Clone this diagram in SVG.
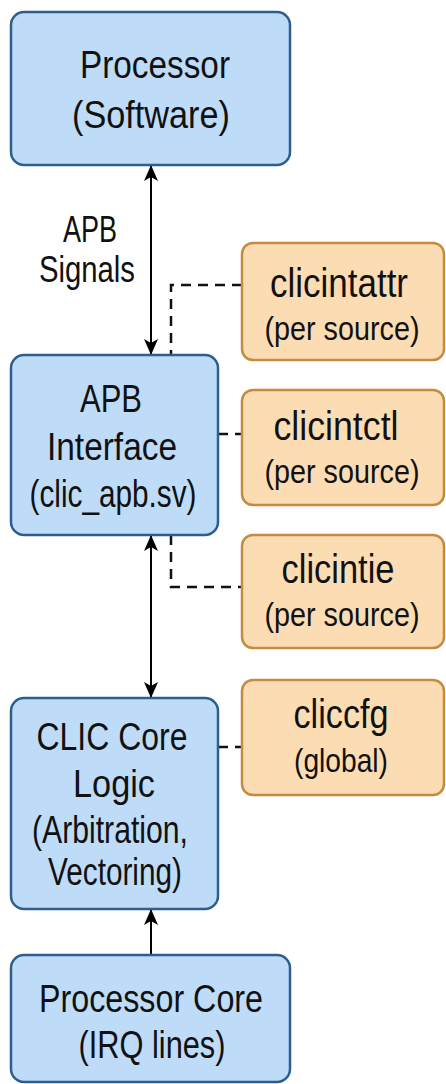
<svg xmlns="http://www.w3.org/2000/svg" width="446" height="1084" viewBox="0 0 446 1084">
  <defs>
    <marker id="ah" viewBox="0 0 16 14" refX="15" refY="7" markerWidth="16" markerHeight="14" markerUnits="userSpaceOnUse" orient="auto-start-reverse">
      <path d="M0,0 L16,7 L0,14 L4,7 Z" fill="#000"/>
    </marker>
    <style>
      .blue { fill: #BEDCF8; stroke: #2D5E8E; stroke-width: 2.5; }
      .orange { fill: #FCDDB3; stroke: #C68A40; stroke-width: 2.5; }
      text { font-family: "Liberation Sans", Arial, sans-serif; fill: #111; text-anchor: middle; }
      .t { font-size: 38px; }
      .o { font-size: 40px; }
      .s { font-size: 36px; }
      .p { font-size: 34px; }
      .solid { stroke: #000; stroke-width: 2; fill: none; }
      .dash { stroke: #111; stroke-width: 2.5; fill: none; stroke-dasharray: 10 7; }
    </style>
  </defs>

  <g id="connectors">
    <line class="solid" x1="151" y1="166" x2="151" y2="354" marker-start="url(#ah)" marker-end="url(#ah)"/>
    <line class="solid" x1="151" y1="536" x2="151" y2="697" marker-start="url(#ah)" marker-end="url(#ah)"/>
    <line class="solid" x1="151" y1="955" x2="151" y2="910" marker-end="url(#ah)"/>
    <path class="dash" d="M242,285 H171 V355"/>
    <path class="dash" d="M218,434 H242"/>
    <path class="dash" d="M171,535 V587 H242"/>
    <path class="dash" d="M218,747 H242"/>
    <g id="label-apb-signals">
      <text class="s" x="90" y="242" textLength="54" lengthAdjust="spacingAndGlyphs">APB</text>
      <text class="s" x="87" y="282" textLength="96" lengthAdjust="spacingAndGlyphs">Signals</text>
    </g>
  </g>

  <g id="processor-software">
    <rect class="blue" x="11" y="12" width="279" height="153" rx="13"/>
    <text class="t" x="155" y="78" textLength="150" lengthAdjust="spacingAndGlyphs">Processor</text>
    <text class="t" x="151" y="128" textLength="158" lengthAdjust="spacingAndGlyphs">(Software)</text>
  </g>

  <g id="apb-interface">
    <rect class="blue" x="11" y="355" width="207" height="180" rx="13"/>
    <text class="t" x="111" y="412" textLength="62" lengthAdjust="spacingAndGlyphs">APB</text>
    <text class="t" x="112" y="460" textLength="130" lengthAdjust="spacingAndGlyphs">Interface</text>
    <text class="t" x="113" y="507" textLength="167" lengthAdjust="spacingAndGlyphs">(clic_apb.sv)</text>
  </g>

  <g id="clic-core-logic">
    <rect class="blue" x="11" y="698" width="207" height="211" rx="13"/>
    <text class="t" x="112" y="750" textLength="151" lengthAdjust="spacingAndGlyphs">CLIC Core</text>
    <text class="t" x="114" y="797" textLength="82" lengthAdjust="spacingAndGlyphs">Logic</text>
    <text class="t" x="110" y="843" textLength="156" lengthAdjust="spacingAndGlyphs">(Arbitration,</text>
    <text class="t" x="115" y="885" textLength="134" lengthAdjust="spacingAndGlyphs">Vectoring)</text>
  </g>

  <g id="processor-core">
    <rect class="blue" x="11" y="955" width="279" height="127" rx="13"/>
    <text class="t" x="151" y="1012" textLength="224" lengthAdjust="spacingAndGlyphs">Processor Core</text>
    <text class="t" x="152" y="1058" textLength="147" lengthAdjust="spacingAndGlyphs">(IRQ lines)</text>
  </g>

  <g id="clicintattr">
    <rect class="orange" x="242" y="243" width="202" height="117" rx="11"/>
    <text class="o" x="339" y="297" textLength="138" lengthAdjust="spacingAndGlyphs">clicintattr</text>
    <text class="p" x="342" y="340" textLength="155" lengthAdjust="spacingAndGlyphs">(per source)</text>
  </g>

  <g id="clicintctl">
    <rect class="orange" x="242" y="390" width="202" height="115" rx="11"/>
    <text class="o" x="336" y="440" textLength="125" lengthAdjust="spacingAndGlyphs">clicintctl</text>
    <text class="p" x="342" y="483" textLength="155" lengthAdjust="spacingAndGlyphs">(per source)</text>
  </g>

  <g id="clicintie">
    <rect class="orange" x="242" y="535" width="202" height="113" rx="11"/>
    <text class="o" x="338" y="583" textLength="113" lengthAdjust="spacingAndGlyphs">clicintie</text>
    <text class="p" x="342" y="626" textLength="155" lengthAdjust="spacingAndGlyphs">(per source)</text>
  </g>

  <g id="cliccfg">
    <rect class="orange" x="242" y="680" width="202" height="115" rx="11"/>
    <text class="o" x="341" y="728" textLength="95" lengthAdjust="spacingAndGlyphs">cliccfg</text>
    <text class="p" x="341" y="772" textLength="94" lengthAdjust="spacingAndGlyphs">(global)</text>
  </g>
</svg>
